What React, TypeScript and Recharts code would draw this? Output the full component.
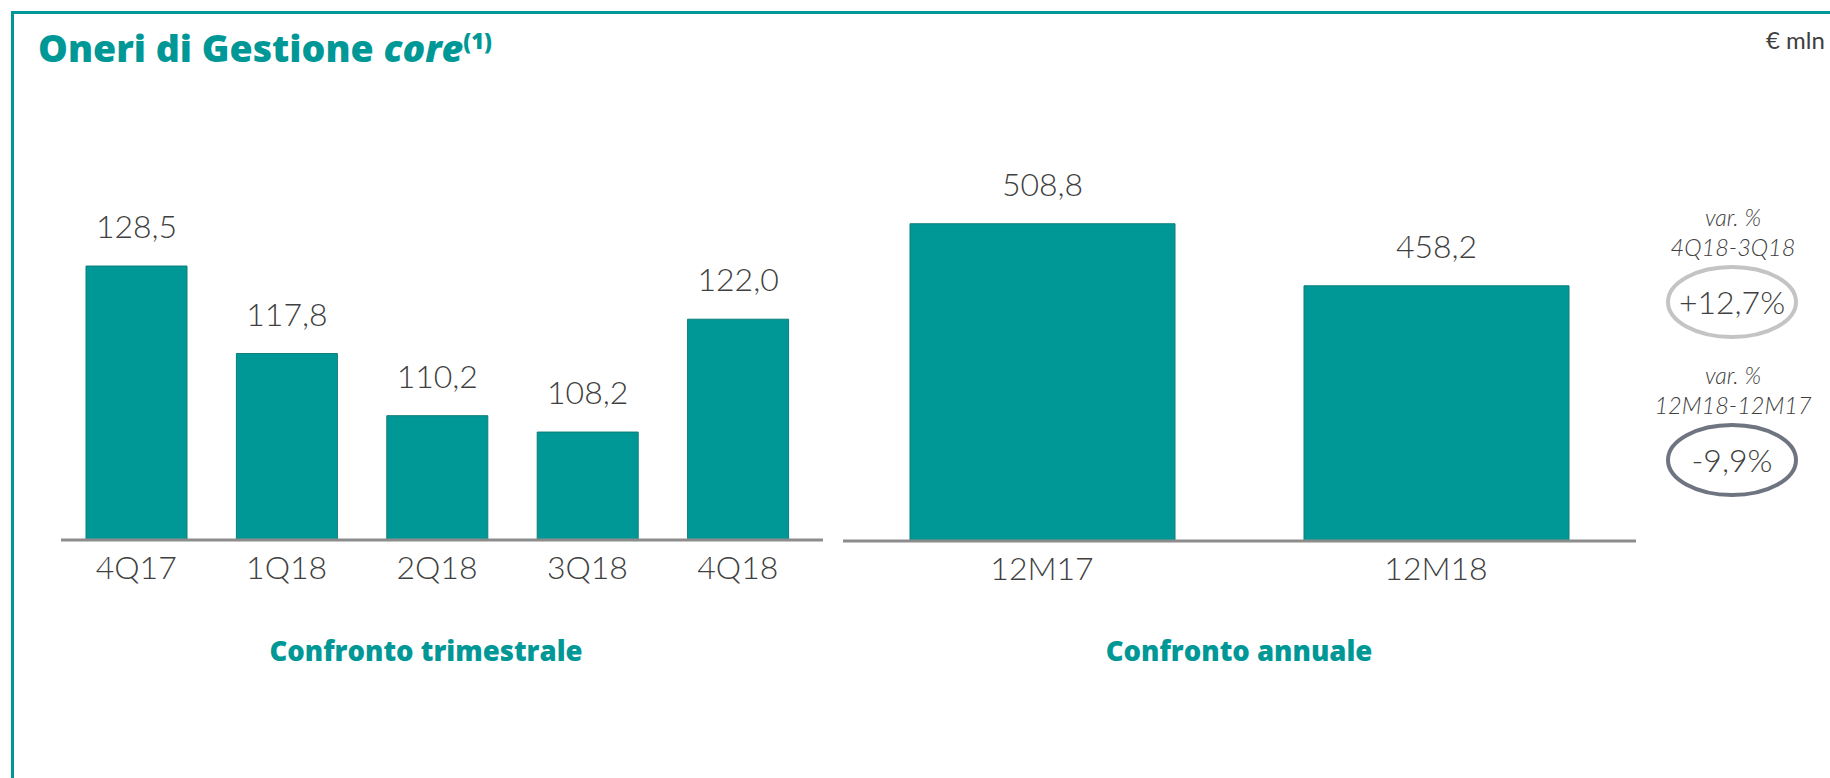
import { Bar, BarChart, LabelList, XAxis, YAxis } from "recharts";

const quarters = ["4Q17", "1Q18", "2Q18", "3Q18", "4Q18"];
const quarterValues = [128.5, 117.8, 110.2, 108.2, 122.0];

const years = ["12M17", "12M18"];
const yearValues = [508.8, 458.2];

const varTitles = ["var. %", "var.  %"];
const varPeriods = ["4Q18-3Q18", "12M18-12M17"];
const varValues = ["+12,7%", "-9,9%"];

const TEAL = "#009896";
const TEXT = "#404040";
const FONT = "'Lato', 'Open Sans', sans-serif";

const quarterData = quarters.map((q, i) => ({ name: q, value: quarterValues[i] }));
const yearData = years.map((y, i) => ({ name: y, value: yearValues[i] }));

const fmt = (v: any) => Number(v).toFixed(1).replace(".", ",");

const tickStyle = { fill: TEXT, fontSize: 32, fontFamily: FONT, fontWeight: 300 };

const App = () => {
    return (
        <div style={{ position: "absolute", left: 0, top: 0, width: 1830, height: 778, background: "#fff", overflow: "hidden", fontFamily: FONT }}>
            {/* frame */}
            <div style={{ position: "absolute", left: 11, top: 11, width: 1830, height: 800, borderTop: `3px solid ${TEAL}`, borderLeft: `3px solid ${TEAL}` }} />

            <div style={{ position: "absolute", left: 38, top: 22, fontSize: 37.5, fontWeight: 800, color: TEAL, fontFamily: "'Open Sans', sans-serif", whiteSpace: "nowrap" }}>
                Oneri di Gestione <i>core</i><sup style={{ fontSize: 22 }}>(1)</sup>
            </div>
            <div style={{ position: "absolute", left: 1766, top: 25, fontSize: 24, color: TEXT, fontFamily: FONT, fontWeight: 400 }}>€ mln</div>

            <div style={{ position: "absolute", left: 0, top: 0 }}>
                <BarChart width={830} height={620} data={quarterData} margin={{ top: 172, right: 7, bottom: 20, left: 61 }}>
                    <XAxis dataKey="name" height={60} tickLine={false} axisLine={{ stroke: "#8c8c8c", strokeWidth: 3 }} tick={tickStyle} tickMargin={10} padding={{ left: 0, right: 10 }} interval={0} />
                    <YAxis hide domain={[95, 140]} width={0} />
                    <Bar dataKey="value" fill={TEAL} stroke="#0b7e7b" strokeWidth={1} barSize={101} isAnimationActive={false}>
                        <LabelList dataKey="value" position="top" offset={28} formatter={fmt} style={tickStyle} />
                    </Bar>
                </BarChart>
            </div>

            <div style={{ position: "absolute", left: 0, top: 0 }}>
                <BarChart width={1650} height={621} data={yearData} margin={{ top: 161, right: 14, bottom: 20, left: 843 }}>
                    <XAxis dataKey="name" height={60} tickLine={false} axisLine={{ stroke: "#8c8c8c", strokeWidth: 3 }} tick={tickStyle} tickMargin={10} padding={{ left: 2, right: 3 }} interval={0} />
                    <YAxis hide domain={[250, 560]} width={0} />
                    <Bar dataKey="value" fill={TEAL} stroke="#0b7e7b" strokeWidth={1} barSize={265} isAnimationActive={false}>
                        <LabelList dataKey="value" position="top" offset={28} formatter={fmt} style={tickStyle} />
                    </Bar>
                </BarChart>
            </div>

            <div style={{ position: "absolute", left: 226, top: 632, width: 400, textAlign: "center", fontSize: 27.5, fontWeight: 800, color: TEAL, fontFamily: "'Open Sans', sans-serif" }}>Confronto trimestrale</div>
            <div style={{ position: "absolute", left: 1039, top: 632, width: 400, textAlign: "center", fontSize: 27.5, fontWeight: 800, color: TEAL, fontFamily: "'Open Sans', sans-serif" }}>Confronto annuale</div>

            <svg style={{ position: "absolute", left: 0, top: 0 }} width={1830} height={778}>
                {varValues.map((v, i) => {
                    const cy = i === 0 ? 302 : 460;
                    return (
                        <g key={v} fontFamily={FONT} fill={TEXT}>
                            <text x={1733} y={cy - 76} textAnchor="middle" fontSize={23} fontStyle="italic" fontWeight={300}>{varTitles[i]}</text>
                            <text x={1733} y={cy - 46} textAnchor="middle" fontSize={23.5} fontStyle="italic" fontWeight={300}>{varPeriods[i]}</text>
                            <ellipse cx={1732} cy={cy} rx={64} ry={35} fill="none" stroke={i === 0 ? "#c4c4c4" : "#6e7580"} strokeWidth={4} />
                            <text x={1732} y={cy + 12} textAnchor="middle" fontSize={32} fontWeight={300}>{v}</text>
                        </g>
                    );
                })}
            </svg>
        </div>
    );
};

export default App;
